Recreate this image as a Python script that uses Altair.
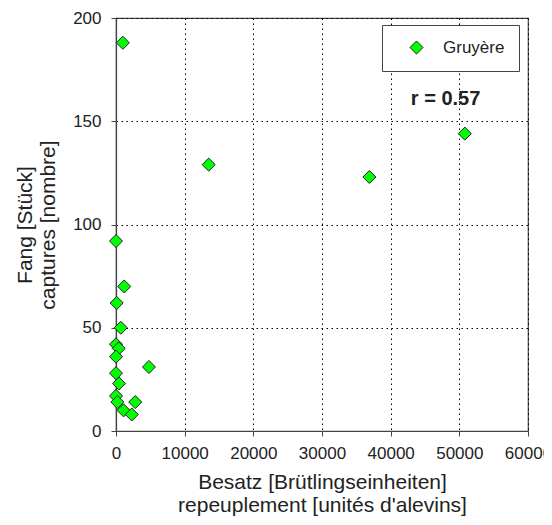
import altair as alt
import pandas as pd

# Besatz (stocking, fry units) and Fang (catch, count) for Gruyère
besatz = [0, 1200, 100, 700, 0, 400, 0, 4800, 0, 450, 0, 200, 2800, 1100, 2300, 1000, 13500, 36900, 50800]
fang = [92, 70, 62, 50, 42, 40, 36, 31, 28, 23, 17, 14, 14, 10, 8, 188, 129, 123, 144]
series = ["Gruyère"] * len(besatz)

x_ticks = [0, 10000, 20000, 30000, 40000, 50000, 60000]
y_ticks = [0, 50, 100, 150, 200]

annot_x = [48000]
annot_y = [161]
annot_text = ["r = 0.57"]

df = pd.DataFrame({"besatz": besatz, "fang": fang, "serie": series})
ann = pd.DataFrame({"x": annot_x, "y": annot_y, "t": annot_text})

FONT = "Liberation Sans"

xscale = alt.Scale(domain=[0, 60000], nice=False)
yscale = alt.Scale(domain=[0, 200], nice=False)

points = alt.Chart(df).mark_point(
    shape="diamond", filled=True, size=170, stroke="#222222", strokeWidth=1, opacity=1
).encode(
    x=alt.X("besatz:Q", scale=xscale,
            axis=alt.Axis(values=x_ticks, format="d", labelOverlap=False, labelFlush=False,
                          title=["Besatz [Brütlingseinheiten]", "repeuplement [unités d'alevins]"])),
    y=alt.Y("fang:Q", scale=yscale,
            axis=alt.Axis(values=y_ticks, labelOverlap=False, labelFlush=False,
                          title=["Fang [Stück]", "captures [nombre]"])),
    fill=alt.Fill("serie:N", scale=alt.Scale(domain=["Gruyère"], range=["#00ff00"]),
                  legend=alt.Legend(title=None, orient="none", legendX=266, legendY=7,
                                    symbolType="diamond", symbolSize=170, symbolFillColor="#00ff00",
                                    symbolStrokeColor="#222222", symbolStrokeWidth=1,
                                    labelFont=FONT, labelFontSize=17, labelColor="#222222",
                                    padding=14, symbolOffset=12, labelOffset=18,
                                    strokeColor="#444444", fillColor="white")),
)

text = alt.Chart(ann).mark_text(
    font=FONT, fontSize=20, fontWeight="bold", color="#222222", align="center", baseline="middle"
).encode(
    x=alt.X("x:Q", scale=xscale),
    y=alt.Y("y:Q", scale=yscale),
    text="t:N",
)

chart = alt.layer(points, text).properties(
    width=412, height=413,
    autosize=alt.AutoSizeParams(type="none"),
    padding={"left": 108, "top": 10, "right": 16, "bottom": 87},
).configure_view(
    stroke="#444444", strokeWidth=1.2
).configure_axis(
    labelFont=FONT, labelFontSize=17, labelColor="#222222",
    titleFont=FONT, titleFontSize=21, titleColor="#222222", titleFontWeight="normal",
    domainColor="#444444", tickColor="#444444", tickSize=5, domainWidth=1.2,
    gridColor="#000000", gridDash=[1.5, 3.5], gridWidth=1, gridOpacity=1,
).configure_axisX(
    labelPadding=9, titlePadding=10, titleLineHeight=23,
).configure_axisY(
    labelPadding=10, titlePadding=14, titleLineHeight=23,
)

chart.save("out.html", embed_options={"renderer": "svg", "actions": False})
